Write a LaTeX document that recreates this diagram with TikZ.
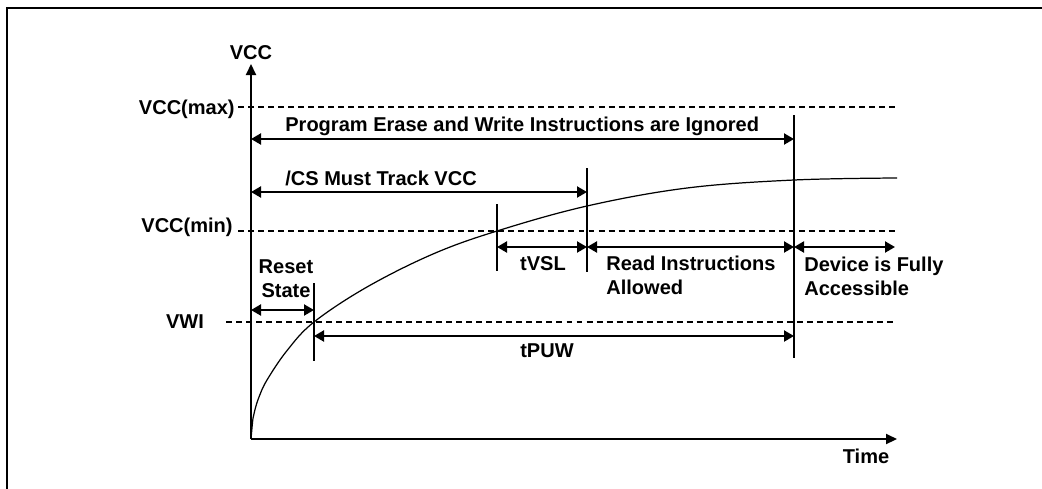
\documentclass[tikz,border=0pt]{standalone}
\usepackage{fontspec}
\setmainfont{Liberation Sans}
\usetikzlibrary{arrows.meta,positioning}

\begin{document}
\begin{tikzpicture}[x=0.02cm,y=-0.02cm,
  font=\fontsize{11.4}{13.6}\selectfont\bfseries,
  frame/.style={line width=1.2pt},
  axis/.style={line width=1.2pt,-{Triangle[length=0.22cm,width=0.2cm]}},
  level/.style={dash pattern=on 3.4pt off 2.3pt,line width=0.6pt},
  tickline/.style={line width=0.6pt},
  span/.style={line width=1.2pt,{Triangle[length=0.2cm,width=0.22cm]}-{Triangle[length=0.2cm,width=0.22cm]}},
  lbl/.style={inner sep=0pt}]
\useasboundingbox (0,0) rectangle (1042,488);

% outer frame (only top and left visible)
\coordinate (FB) at (7,495);
\coordinate (FC) at (7,8);
\coordinate (FR) at (1050,8);
\draw[frame] (FB) -- (FC) -- (FR);

% axes
\coordinate (O) at (251,439);
\coordinate (Ytop) at (251,64);
\coordinate (Xend) at (897,439);
\draw[axis] (O) -- (Ytop);
\draw[axis] (O) -- (Xend);
\node[lbl] (vcc) at (251,53) {VCC};
\node[lbl] (time) at (866,456) {Time};

% voltage levels
\coordinate (MaxA) at (238,107);
\coordinate (MaxB) at (895,107);
\coordinate (MinA) at (238,231);
\coordinate (MinB) at (895,231);
\coordinate (WiA) at (226,322);
\coordinate (WiB) at (895,322);
\draw[level] (MaxA) -- (MaxB);
\draw[level] (MinA) -- (MinB);
\draw[level] (WiA) -- (WiB);
\node[lbl,anchor=east] (vmax) at (235,109) {VCC(max)};
\node[lbl,anchor=east] (vmin) at (233,227) {VCC(min)};
\node[lbl] (vwi) at (185,322) {VWI};

% supply ramp
\draw[line width=0.7pt] plot[smooth,tension=0.6] coordinates {
  (251,439) (253,418.2) (255,409.5) (259,397) (267,380) (287,350.6)
  (314,322) (367,287) (433,254) (497,231) (587,206) (687,188)
  (794,180) (897,178)};

% time markers
\coordinate (T1a) at (314,283);
\coordinate (T1b) at (314,361);
\coordinate (T2a) at (497,204);
\coordinate (T2b) at (497,271);
\coordinate (T3a) at (587,168);
\coordinate (T3b) at (587,272);
\coordinate (T4a) at (794,115);
\coordinate (T4b) at (794,358);
\draw[tickline] (T1a) -- (T1b);
\draw[tickline] (T2a) -- (T2b);
\draw[tickline] (T3a) -- (T3b);
\draw[tickline] (T4a) -- (T4b);

% intervals
\coordinate (P0) at (251,139);
\coordinate (P1) at (794,139);
\coordinate (C0) at (251,192);
\coordinate (C1) at (587,192);
\coordinate (R0) at (497,247);
\coordinate (R1) at (587,247);
\coordinate (R2) at (794,247);
\coordinate (R3) at (895,247);
\coordinate (S0) at (251,310);
\coordinate (S1) at (314,310);
\coordinate (U0) at (314,336);
\coordinate (U1) at (794,336);
\draw[span] (P0) -- (P1);
\draw[span] (C0) -- (C1);
\draw[span] (R0) -- (R1);
\draw[span] (R1) -- (R2);
\draw[span] (R2) -- (R3);
\draw[span] (S0) -- (S1);
\draw[span] (U0) -- (U1);

\node[lbl,anchor=west] (ignored) at (285,126) {Program Erase and Write Instructions are Ignored};
\node[lbl,anchor=west] (track) at (285,178) {/CS Must Track VCC};
\node[lbl] (tvsl) at (543,264) {tVSL};
\node[lbl,anchor=west,align=left] (read) at (606,275) {Read Instructions\\Allowed};
\node[lbl,anchor=west,align=left] (full) at (804,276) {Device is Fully\\Accessible};
\node[lbl,align=center] (reset) at (286,279) {Reset\\State};
\node[lbl] (tpuw) at (547,351) {tPUW};
\end{tikzpicture}
\end{document}
